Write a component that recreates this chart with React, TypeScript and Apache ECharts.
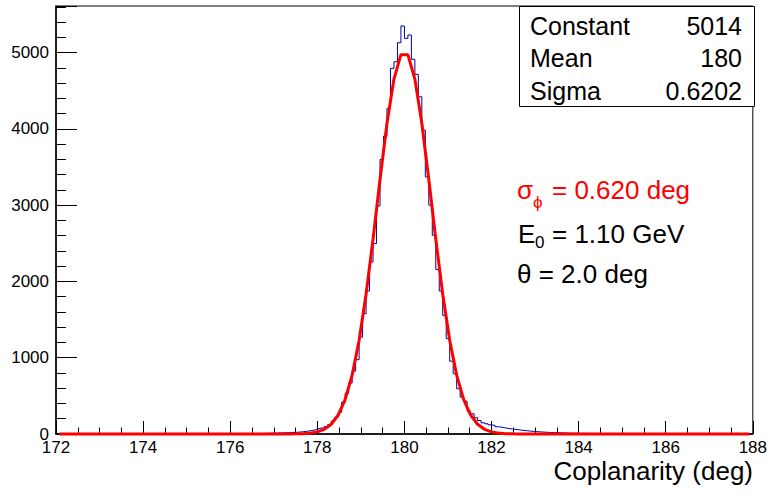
import React, { useEffect, useRef } from "react";
import * as echarts from "echarts";

// Histogram: 200 bins of width 0.08 from 172 to 188
const binStart = 172;
const binWidth = 0.08;
const histCounts: number[] = [
  // 172.00 - 172.72
  0, 0, 1, 0, 0, 0, 1, 0, 0, 0,
  // 172.80 - 173.52
  0, 1, 0, 0, 0, 0, 1, 0, 0, 1,
  // 173.60 - 174.32
  0, 0, 1, 0, 0, 1, 0, 1, 0, 0,
  // 174.40 - 175.12
  1, 0, 1, 1, 0, 1, 0, 2, 1, 1,
  // 175.20 - 175.92
  1, 0, 2, 1, 1, 2, 1, 3, 2, 2,
  // 176.00 - 176.72
  3, 2, 4, 3, 5, 4, 6, 5, 7, 8,
  // 176.80 - 177.52
  9, 10, 11, 13, 14, 16, 18, 20, 22, 25,
  // 177.60 - 178.32
  30, 36, 42, 50, 58, 70, 80, 98, 125, 168,
  // 178.40 - 179.12
  220, 286, 417, 535, 667, 824, 974, 1270, 1577, 1874,
  // 179.20 - 179.92
  2255, 2496, 2990, 3598, 3904, 4268, 4793, 4879, 5129, 5348,
  // 180.00 - 180.72
  5186, 5230, 4911, 4714, 4420, 3983, 3370, 3000, 2605, 2155,
  // 180.80 - 181.52
  1874, 1555, 1249, 955, 790, 593, 483, 430, 299, 265,
  // 181.60 - 182.32
  213, 177, 147, 134, 120, 112, 95, 89, 80, 72,
  // 182.40 - 183.12
  66, 60, 55, 48, 44, 39, 34, 31, 28, 25,
  // 183.20 - 183.92
  22, 20, 18, 16, 15, 13, 12, 11, 10, 9,
  // 184.00 - 184.72
  8, 8, 7, 6, 6, 5, 5, 4, 4, 3,
  // 184.80 - 185.52
  3, 3, 2, 2, 2, 1, 2, 1, 1, 1,
  // 185.60 - 186.32
  1, 0, 1, 0, 0, 1, 0, 0, 0, 1,
  // 186.40 - 187.12
  0, 0, 0, 0, 1, 0, 0, 0, 0, 0,
  // 187.20 - 187.92
  0, 0, 1, 0, 0, 0, 0, 0, 0, 0,
];

// Fitted Gaussian curve, sampled points (x, y)
const fitX: number[] = [
  172.08, 177.04, 177.2, 177.36, 177.52, 177.68, 177.84, 178.0, 178.16, 178.32,
  178.48, 178.64, 178.8, 178.96, 179.12, 179.28, 179.44, 179.6, 179.76, 179.92,
  180.08, 180.24, 180.4, 180.56, 180.72, 180.88, 181.04, 181.2, 181.36, 181.52,
  181.68, 181.84, 182.0, 182.16, 182.32, 182.48, 182.64, 182.8, 182.96, 187.92,
];
const fitY: number[] = [
  0, 0.06, 0.19, 0.58, 1.7, 4.6, 11.6, 27.7, 61.5, 127.9,
  248.8, 452.9, 771.4, 1229.1, 1832.4, 2555.8, 3335.4, 4072.5, 4652.3, 4972.5,
  4972.5, 4652.3, 4072.5, 3335.4, 2555.8, 1832.4, 1229.1, 771.4, 452.9, 248.8,
  127.9, 61.5, 27.7, 11.6, 4.6, 1.7, 0.58, 0.19, 0.06, 0,
];

const xMin = 172;
const xMax = 188;
const yMin = 0;
const yMax = 5610;

const statsLabels = ["Constant", "Mean", "Sigma"];
const statsValues = ["5014", "180", "0.6202"];

const xTitle = "Coplanarity (deg)";

const FONT = "'Liberation Sans', Arial, Helvetica, sans-serif";

export default function App() {
  const ref = useRef<HTMLDivElement>(null);

  useEffect(() => {
    if (!ref.current) return;
    const chart = echarts.init(ref.current, null, { renderer: "svg" });

    const histData: number[][] = histCounts.map((c, i) => [binStart + i * binWidth, c]);
    histData.push([xMax, histCounts[histCounts.length - 1]]);
    const fitData: number[][] = fitX.map((x, i) => [x, fitY[i]]);

    const rowY = [26, 58, 91];
    const statsGraphics: any[] = [];
    statsLabels.forEach((lab, i) => {
      statsGraphics.push({
        type: "text",
        z: 101,
        style: {
          text: lab,
          x: 530,
          y: rowY[i],
          fill: "#000",
          fontSize: 25,
          fontFamily: FONT,
          align: "left",
          verticalAlign: "middle",
          textAlign: "left",
          textVerticalAlign: "middle",
        },
      });
      statsGraphics.push({
        type: "text",
        z: 101,
        style: {
          text: statsValues[i],
          x: 742,
          y: rowY[i],
          fill: "#000",
          fontSize: 25,
          fontFamily: FONT,
          align: "right",
          verticalAlign: "middle",
          textAlign: "right",
          textVerticalAlign: "middle",
        },
      });
    });

    const txt = (text: string, x: number, y: number, size: number, color: string) => ({
      type: "text",
      z: 101,
      style: {
        text,
        x,
        y,
        fill: color,
        fontSize: size,
        fontFamily: FONT,
        align: "left",
        verticalAlign: "middle",
        textAlign: "left",
        textVerticalAlign: "middle",
      },
    });

    chart.setOption({
      animation: false,
      backgroundColor: "#fff",
      textStyle: { fontFamily: FONT },
      grid: {
        left: 56,
        right: 15,
        top: 6,
        bottom: 62,
        show: true,
        borderColor: "#000",
        borderWidth: 1,
        backgroundColor: "transparent",
      },
      xAxis: [
        {
          type: "value",
          min: xMin,
          max: xMax,
          interval: 2,
          position: "bottom",
          axisLine: { show: true, onZero: false, lineStyle: { color: "#000", width: 1.5 } },
          axisTick: { show: true, inside: true, length: 13, lineStyle: { color: "#000", width: 1 } },
          axisLabel: { show: true, color: "#000", fontSize: 17, fontFamily: FONT, margin: 5 },
          splitLine: { show: false },
        },
        {
          type: "value",
          min: xMin,
          max: xMax,
          interval: 0.5,
          position: "bottom",
          axisLine: { show: false, onZero: false },
          axisTick: { show: true, inside: true, length: 6.5, lineStyle: { color: "#000", width: 1 } },
          axisLabel: { show: false },
          splitLine: { show: false },
        },
      ],
      yAxis: [
        {
          type: "value",
          min: yMin,
          max: yMax,
          interval: 1000,
          position: "left",
          axisLine: { show: true, onZero: false, lineStyle: { color: "#000", width: 1.5 } },
          axisTick: { show: true, inside: true, length: 21, lineStyle: { color: "#000", width: 1 } },
          axisLabel: {
            show: true,
            color: "#000",
            fontSize: 17,
            fontFamily: FONT,
            margin: 7,
            formatter: (v: number) => (v % 1000 === 0 ? String(v) : ""),
          },
          splitLine: { show: false },
        },
        {
          type: "value",
          min: yMin,
          max: yMax,
          interval: 200,
          position: "left",
          axisLine: { show: false, onZero: false },
          axisTick: { show: true, inside: true, length: 10, lineStyle: { color: "#000", width: 1 } },
          axisLabel: { show: false },
          splitLine: { show: false },
        },
      ],
      series: [
        {
          name: "histogram",
          type: "line",
          step: "end",
          data: histData,
          xAxisIndex: 0,
          yAxisIndex: 0,
          showSymbol: false,
          symbol: "none",
          lineStyle: { color: "#000099", width: 1 },
          z: 2,
        },
        {
          name: "fit",
          type: "line",
          data: fitData,
          xAxisIndex: 0,
          yAxisIndex: 0,
          showSymbol: false,
          symbol: "none",
          clip: false,
          lineStyle: { color: "#ff0000", width: 3 },
          z: 3,
        },
      ],
      graphic: [
        {
          type: "rect",
          z: 100,
          shape: { x: 519.5, y: 6.5, width: 235, height: 100 },
          style: { fill: "#fff", stroke: "#000", lineWidth: 1 },
        },
        ...statsGraphics,
        txt("\u03C3", 517, 190, 26, "#ff0000"),
        txt("\u03D5", 533, 202, 17, "#ff0000"),
        txt("= 0.620 deg", 552, 190, 26, "#ff0000"),
        txt("E", 518, 234, 26, "#000"),
        txt("0", 535, 242, 17, "#000"),
        txt("= 1.10 GeV", 552, 234, 26, "#000"),
        txt("\u03B8 = 2.0 deg", 517, 274, 26, "#000"),
        {
          type: "text",
          z: 101,
          style: {
            text: xTitle,
            x: 753,
            y: 471,
            fill: "#000",
            fontSize: 26,
            fontFamily: FONT,
            align: "right",
            verticalAlign: "middle",
            textAlign: "right",
            textVerticalAlign: "middle",
          },
        },
      ],
    });

    return () => chart.dispose();
  }, []);

  return (
    <div
      ref={ref}
      style={{ position: "fixed", left: 0, top: 0, width: 770, height: 496, background: "#fff" }}
    />
  );
}
